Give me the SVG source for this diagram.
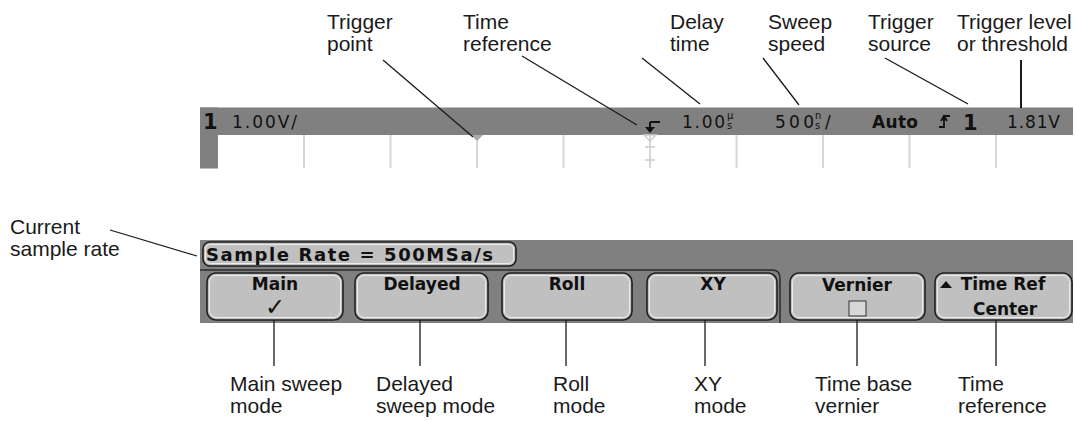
<svg xmlns="http://www.w3.org/2000/svg" width="1075" height="421" viewBox="0 0 1075 421">
<style>
.lbl{font-family:"Liberation Sans",Arial,sans-serif;font-size:21px;fill:#1a1a1a}
.ln{stroke:#1a1a1a;stroke-width:1.3;fill:none}
.bar{fill:#808080}
.grid{stroke:#d6d6d6;stroke-width:2}
.mono{font-family:"DejaVu Sans",sans-serif;font-size:17px;fill:#111}
.monob{font-family:"DejaVu Sans",sans-serif;font-size:21px;font-weight:bold;fill:#111}
.btn{fill:#c0c0c0;stroke:#1e1e1e;stroke-width:1.6}
.hl{fill:none;stroke:#ececec;stroke-width:1}
.btxt{font-family:"DejaVu Sans",sans-serif;font-weight:bold;font-size:17px;fill:#111;text-anchor:middle}
</style>

<g id="top-display">
  <rect class="bar" x="200" y="107.5" width="873" height="27.5"/>
  <rect class="bar" x="200" y="107.5" width="18" height="61"/>
  <g class="grid">
    <line x1="304" y1="135" x2="304" y2="168"/>
    <line x1="390.5" y1="135" x2="390.5" y2="168"/>
    <line x1="477" y1="135" x2="477" y2="168"/>
    <line x1="563.5" y1="135" x2="563.5" y2="168"/>
    <line x1="650" y1="135" x2="650" y2="168"/>
    <line x1="736.5" y1="135" x2="736.5" y2="168"/>
    <line x1="823" y1="135" x2="823" y2="168"/>
    <line x1="909.5" y1="135" x2="909.5" y2="168"/>
    <line x1="996" y1="135" x2="996" y2="168"/>
    <line x1="645" y1="147" x2="655" y2="147"/>
    <line x1="645" y1="160" x2="655" y2="160"/>
  </g>
  <polygon points="471,135 483,135 477,141" fill="#a9a9a9"/>
  <polygon points="644,135 656,135 650,141" fill="none" stroke="#cfcfcf" stroke-width="1.5"/>
  <path d="M650,122 H660 M650,122 V128" stroke="#111" stroke-width="2" fill="none"/>
  <polygon points="645,127 655,127 650,133" fill="#111"/>
  <text class="monob" x="203" y="129">1</text>
  <text class="mono" x="232" y="128" textLength="65">1.00V/</text>
  <text class="mono" x="682" y="128" textLength="43">1.00</text>
  <text class="mono" x="727" y="119" style="font-size:10px">µ</text>
  <text class="mono" x="727" y="129" style="font-size:10px">s</text>
  <text class="mono" x="775" y="128" textLength="39">500</text>
  <text class="mono" x="815" y="119" style="font-size:10px">n</text>
  <text class="mono" x="815" y="129" style="font-size:10px">s</text>
  <text class="mono" x="825" y="128">/</text>
  <text class="mono" x="872" y="128" textLength="46" style="font-weight:bold">Auto</text>
  <path d="M939,127 H944 V116 H950 M941,121 L944,116 L947,121" stroke="#111" stroke-width="1.8" fill="none"/>
  <text class="monob" x="963" y="130">1</text>
  <text class="mono" x="1007" y="128" textLength="53">1.81V</text>
</g>

<g id="softkeys">
  <rect class="bar" x="200" y="240" width="873" height="83"/>
  <path d="M200,270 H772 Q780,270 780,278 V323" stroke="#2a2a2a" stroke-width="1.5" fill="none"/>
  <g id="sample-rate-box">
    <rect class="btn" x="203" y="242" width="313" height="24" rx="7"/>
    <rect class="hl" x="205.5" y="244.5" width="308" height="19" rx="5"/>
    <text x="206" y="261" font-family="DejaVu Sans, sans-serif" font-weight="bold" font-size="18" fill="#111" textLength="287">Sample Rate = 500MSa/s</text>
  </g>
  <g id="btn-main">
    <rect class="btn" x="207" y="273" width="136" height="47" rx="9"/>
    <rect class="hl" x="209.5" y="275.5" width="131" height="42" rx="7"/>
    <text class="btxt" x="275" y="290">Main</text>
    <text class="btxt" x="275" y="315" style="font-size:24px">✓</text>
  </g>
  <g id="btn-delayed">
    <rect class="btn" x="355" y="273" width="133" height="47" rx="9"/>
    <rect class="hl" x="357.5" y="275.5" width="128" height="42" rx="7"/>
    <text class="btxt" x="422" y="290">Delayed</text>
  </g>
  <g id="btn-roll">
    <rect class="btn" x="502" y="273" width="130" height="47" rx="9"/>
    <rect class="hl" x="504.5" y="275.5" width="125" height="42" rx="7"/>
    <text class="btxt" x="567" y="290">Roll</text>
  </g>
  <g id="btn-xy">
    <rect class="btn" x="647" y="273" width="130" height="47" rx="9"/>
    <rect class="hl" x="649.5" y="275.5" width="125" height="42" rx="7"/>
    <text class="btxt" x="713" y="290">XY</text>
  </g>
  <g id="btn-vernier">
    <rect class="btn" x="790" y="273" width="135" height="47" rx="9"/>
    <rect class="hl" x="792.5" y="275.5" width="130" height="42" rx="7"/>
    <text class="btxt" x="857" y="291">Vernier</text>
    <rect x="849" y="301" width="17" height="15" fill="#d8d8d8" stroke="#333" stroke-width="1"/>
  </g>
  <g id="btn-timeref">
    <rect class="btn" x="935" y="273" width="137" height="47" rx="9"/>
    <rect class="hl" x="937.5" y="275.5" width="132" height="42" rx="7"/>
    <polygon points="940,288 952,288 946,281" fill="#111"/>
    <text class="btxt" x="1003" y="290">Time Ref</text>
    <text class="btxt" x="1005" y="315">Center</text>
  </g>
</g>

<g id="connectors" class="ln">
  <line x1="110" y1="230" x2="197" y2="256"/>
  <line x1="383" y1="60" x2="473" y2="137"/>
  <line x1="522" y1="56" x2="637" y2="125"/>
  <line x1="642" y1="58" x2="700" y2="104"/>
  <line x1="763" y1="58" x2="799" y2="105"/>
  <line x1="885" y1="58" x2="968" y2="104"/>
  <line x1="1021" y1="60" x2="1021" y2="108" stroke-width="2"/>
  <line x1="274" y1="320" x2="274" y2="366"/>
  <line x1="420" y1="320" x2="420" y2="366"/>
  <line x1="566" y1="320" x2="566" y2="366"/>
  <line x1="705" y1="320" x2="705" y2="366"/>
  <line x1="857" y1="320" x2="857" y2="366"/>
  <line x1="996" y1="320" x2="996" y2="366"/>
</g>

<g id="label-trigger-point"><text class="lbl" x="327" y="29">Trigger</text><text class="lbl" x="327" y="51">point</text></g>
<g id="label-time-reference"><text class="lbl" x="463" y="29">Time</text><text class="lbl" x="463" y="51">reference</text></g>
<g id="label-delay-time"><text class="lbl" x="670" y="29">Delay</text><text class="lbl" x="670" y="51">time</text></g>
<g id="label-sweep-speed"><text class="lbl" x="768" y="29">Sweep</text><text class="lbl" x="768" y="51">speed</text></g>
<g id="label-trigger-source"><text class="lbl" x="868" y="29">Trigger</text><text class="lbl" x="868" y="51">source</text></g>
<g id="label-trigger-level"><text class="lbl" x="957" y="29">Trigger level</text><text class="lbl" x="957" y="51">or threshold</text></g>
<g id="label-sample-rate"><text class="lbl" x="10" y="234">Current</text><text class="lbl" x="10" y="256">sample rate</text></g>
<g id="label-main"><text class="lbl" x="230" y="391">Main sweep</text><text class="lbl" x="230" y="413">mode</text></g>
<g id="label-delayed"><text class="lbl" x="376" y="391">Delayed</text><text class="lbl" x="376" y="413">sweep mode</text></g>
<g id="label-roll"><text class="lbl" x="553" y="391">Roll</text><text class="lbl" x="553" y="413">mode</text></g>
<g id="label-xy"><text class="lbl" x="694" y="391">XY</text><text class="lbl" x="694" y="413">mode</text></g>
<g id="label-vernier"><text class="lbl" x="815" y="391">Time base</text><text class="lbl" x="815" y="413">vernier</text></g>
<g id="label-timeref2"><text class="lbl" x="958" y="391">Time</text><text class="lbl" x="958" y="413">reference</text></g>
</svg>
